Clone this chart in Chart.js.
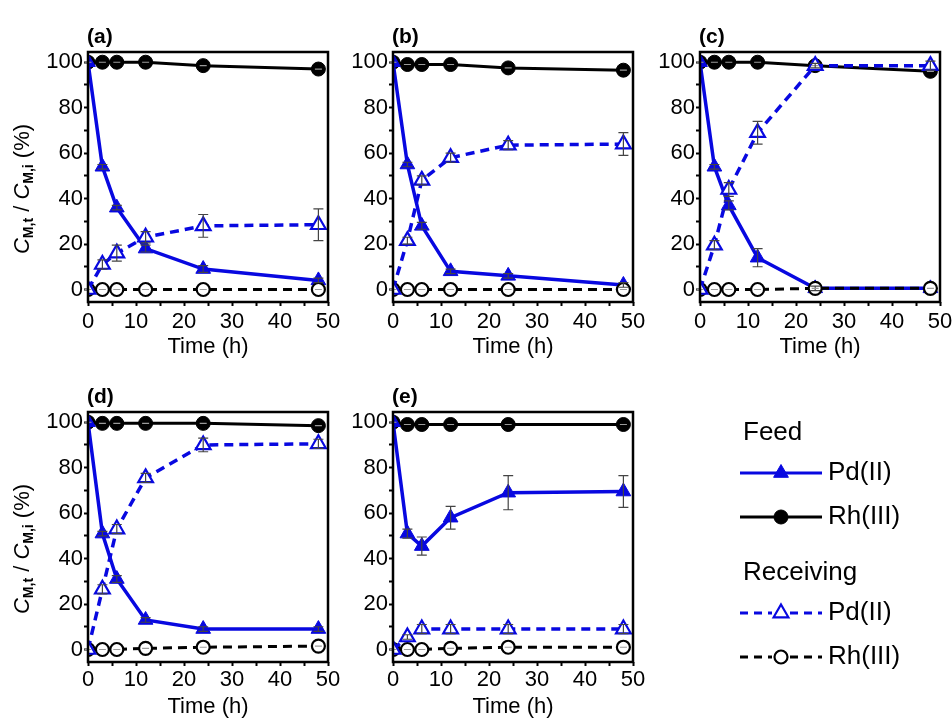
<!DOCTYPE html>
<html>
<head>
<meta charset="utf-8">
<script src="https://cdn.jsdelivr.net/npm/chart.js@4.4.1/dist/chart.umd.min.js"></script>
<style>
body { margin: 0; background: #fff; overflow: hidden; width: 952px; height: 718px; position: relative; }
canvas { position: absolute; }
</style>
</head>
<body>
<canvas id="pa" width="350" height="360" style="left:0px;top:0px"></canvas>
<canvas id="pb" width="330" height="360" style="left:330px;top:0px"></canvas>
<canvas id="pc" width="316" height="360" style="left:640px;top:0px"></canvas>
<canvas id="pd" width="350" height="358" style="left:0px;top:360px"></canvas>
<canvas id="pe" width="622" height="358" style="left:330px;top:360px"></canvas>
<script>
const times = [0, 3, 6, 12, 24, 48]
const xTickVals = [0, 5, 10, 15, 20, 25, 30, 35, 40, 45, 50]
const xLabels = [0, 10, 20, 30, 40, 50]
const yTickVals = [0, 10, 20, 30, 40, 50, 60, 70, 80, 90, 100]
const yLabels = [0, 20, 40, 60, 80, 100]
const rhErr = [0, 0, 0, 0, 0, 0]

// (a)
const feedPdA = [100, 54, 36, 18, 9, 4]
const feedPdErrA = [0, 1, 1, 1.5, 1.5, 1]
const feedRhA = [100, 100, 100, 100, 98.5, 97]
const recvPdA = [0, 11, 16, 23, 28, 28.5]
const recvPdErrA = [0, 2, 3.5, 2.5, 5, 7]
const recvRhA = [0, 0, 0, 0, 0, 0]

// (b)
const feedPdB = [100, 55, 28, 8, 6, 2]
const feedPdErrB = [0, 1, 1.5, 1, 1, 1]
const feedRhB = [100, 99, 99, 99, 97.5, 96.5]
const recvPdB = [0, 21.5, 48, 58, 63.5, 64]
const recvPdErrB = [0, 1.5, 2, 2, 2, 5]
const recvRhB = [0, 0, 0, 0, 0, 0]

// (c)
const feedPdC = [100, 54, 37, 14, 0.5, 0.5]
const feedPdErrC = [0, 1, 2, 4, 1, 0]
const feedRhC = [100, 100, 100, 100, 98.5, 96]
const recvPdC = [0, 19.5, 44, 69, 98.5, 98.5]
const recvPdErrC = [0, 2, 3, 5, 1, 2]
const recvRhC = [0, 0, 0, 0, 0.5, 0.5]

// (d)
const feedPdD = [100, 51, 31, 13, 9, 9]
const feedPdErrD = [0, 1, 1.5, 1, 1, 1]
const feedRhD = [100, 99.5, 99.5, 99.5, 99.5, 98.5]
const recvPdD = [0, 26.5, 53, 75.5, 90, 90.5]
const recvPdErrD = [0, 2, 2, 2, 3, 2]
const recvRhD = [0, 0, 0, 0.5, 1, 1.5]

// (e)
const feedPdE = [100, 51, 45.5, 58, 69, 69.5]
const feedPdErrE = [0, 2, 4, 5, 7.5, 7]
const feedRhE = [100, 99, 99, 99, 99, 99]
const recvPdE = [0, 5.5, 9, 9, 9, 9]
const recvPdErrE = [0, 1, 2, 2, 2, 2]
const recvRhE = [0, 0, 0, 0.5, 1, 1]

const BLUE = "rgb(8,8,224)"
const FONT = "'Liberation Sans', Arial, sans-serif"
Chart.defaults.font.family = FONT

const pts = (ys) => times.map((t, i) => ({ x: t, y: ys[i] }))

const makeSets = (feedPd, feedPdErr, feedRh, recvPd, recvPdErr, recvRh) => [
    {
        data: pts(feedRh), errors: rhErr, errColor: "#9a9a9a", cap: 3.5,
        borderColor: "#000", backgroundColor: "#000",
        borderWidth: 3, pointStyle: "circle", pointRadius: 7, pointBorderWidth: 1,
        order: 4
    },
    {
        data: pts(feedPd), errors: feedPdErr, errColor: "#444", cap: 5,
        borderColor: BLUE, backgroundColor: BLUE,
        borderWidth: 3.5, pointStyle: "triangle", pointRadius: 8.5, pointBorderWidth: 1,
        order: 3
    },
    {
        data: pts(recvRh), errors: rhErr, errColor: "#9a9a9a", cap: 3.5,
        borderColor: "#000", backgroundColor: "#fff",
        borderWidth: 3, borderDash: [9, 6], pointStyle: "circle", pointRadius: 6.5,
        pointBorderWidth: 2.2, order: 2
    },
    {
        data: pts(recvPd), errors: recvPdErr, errColor: "#444", cap: 5,
        borderColor: BLUE, backgroundColor: "#fff",
        borderWidth: 3.5, borderDash: [9, 6], pointStyle: "triangle", pointRadius: 8.5,
        pointBorderWidth: 2.2, order: 1
    }
]

// error bars, frame and panel label
const extras = {
    id: "extras",
    afterDatasetsDraw(chart) {
        const ctx = chart.ctx, xs = chart.scales.x, ys = chart.scales.y
        ctx.save()
        ctx.lineWidth = 1.2
        chart.data.datasets.forEach(ds => {
            if (!ds.errors) return
            ctx.strokeStyle = ds.errColor
            ds.data.forEach((p, i) => {
                const e = ds.errors[i]
                if (ds.errColor === "#444" && !e) return
                const x = xs.getPixelForValue(p.x)
                const y1 = ys.getPixelForValue(p.y + e), y2 = ys.getPixelForValue(p.y - e)
                const c = ds.cap
                ctx.beginPath()
                ctx.moveTo(x, y1); ctx.lineTo(x, y2)
                ctx.moveTo(x - c, y1); ctx.lineTo(x + c, y1)
                ctx.moveTo(x - c, y2); ctx.lineTo(x + c, y2)
                ctx.stroke()
            })
        })
        ctx.restore()
    },
    afterDraw(chart, args, opts) {
        const ctx = chart.ctx, a = chart.chartArea
        ctx.save()
        ctx.strokeStyle = "#000"
        ctx.lineWidth = 2.5
        ctx.strokeRect(a.left, a.top, a.right - a.left, a.bottom - a.top)
        ctx.fillStyle = "#000"
        ctx.font = "bold 21px " + FONT
        ctx.textBaseline = "middle"
        ctx.fillText(opts.label, a.left - 1, a.top - 15)
        if (opts.yTitle) {
            ctx.translate(23, a.top + 137)
            ctx.rotate(-Math.PI / 2)
            const segs = [
                ["italic 22px ", "C", 0], ["bold 14px ", "M,t", 6], ["22px ", " / ", 0],
                ["italic 22px ", "C", 0], ["bold 14px ", "M,i", 6], ["22px ", " (%)", 0]
            ]
            let total = 0
            segs.forEach(s => { ctx.font = s[0] + FONT; total += ctx.measureText(s[1]).width })
            let x = -total / 2
            segs.forEach(s => {
                ctx.font = s[0] + FONT
                ctx.fillText(s[1], x, s[2])
                x += ctx.measureText(s[1]).width
            })
        }
        ctx.restore()
    }
}

// legend drawn in the free space right of panel (e)
const legendBox = {
    id: "legendBox",
    afterDraw(chart) {
        const ctx = chart.ctx
        const ox = 330, oy = 360
        const rows = [
            { head: "Feed", y: 433 },
            { text: "Pd(II)", y: 473, color: BLUE, dash: [], mark: "tri", fill: BLUE },
            { text: "Rh(III)", y: 517, color: "#000", dash: [], mark: "circ", fill: "#000" },
            { head: "Receiving", y: 573 },
            { text: "Pd(II)", y: 613, color: BLUE, dash: [8, 6], mark: "tri", fill: "#fff" },
            { text: "Rh(III)", y: 657, color: "#000", dash: [8, 6], mark: "circ", fill: "#fff" }
        ]
        ctx.save()
        ctx.translate(-ox, -oy)
        ctx.textBaseline = "middle"
        ctx.font = "26px " + FONT
        rows.forEach(r => {
            ctx.fillStyle = "#000"
            if (r.head) { ctx.fillText(r.head, 743, r.y); return }
            ctx.strokeStyle = r.color
            ctx.lineWidth = 3
            ctx.setLineDash(r.dash)
            ctx.beginPath(); ctx.moveTo(740, r.y); ctx.lineTo(772, r.y); ctx.stroke()
            ctx.beginPath(); ctx.moveTo(790, r.y); ctx.lineTo(822, r.y); ctx.stroke()
            ctx.setLineDash([])
            if (r.fill !== "#fff") {
                ctx.beginPath(); ctx.moveTo(772, r.y); ctx.lineTo(790, r.y); ctx.stroke()
            }
            ctx.fillStyle = r.fill
            ctx.lineWidth = r.fill === "#fff" ? 2.2 : 1
            ctx.beginPath()
            if (r.mark === "tri") {
                ctx.moveTo(781, r.y - 8.5)
                ctx.lineTo(781 + 7.4, r.y + 4.3)
                ctx.lineTo(781 - 7.4, r.y + 4.3)
                ctx.closePath()
            } else {
                ctx.arc(781, r.y, r.fill === "#fff" ? 6.5 : 7, 0, Math.PI * 2)
            }
            ctx.fill(); ctx.stroke()
            ctx.fillStyle = "#000"
            ctx.fillText(r.text, 828, r.y)
        })
        ctx.restore()
    }
}

const makePanel = (id, label, sets, box, yTitle, plugins) => {
    new Chart(document.getElementById(id).getContext("2d"), {
        type: "line",
        data: { datasets: sets },
        plugins: [extras].concat(plugins || []),
        options: {
            responsive: false,
            animation: false,
            devicePixelRatio: 1,
            layout: { padding: { left: 0, top: box.top, right: box.right, bottom: 0 } },
            plugins: {
                legend: { display: false },
                tooltip: { enabled: false },
                extras: { label: label, yTitle: yTitle }
            },
            scales: {
                x: {
                    type: "linear", min: 0, max: 50,
                    afterBuildTicks: s => { s.ticks = xTickVals.map(v => ({ value: v })) },
                    afterFit: s => { s.height = box.xh },
                    grid: { drawOnChartArea: false, drawTicks: true, tickLength: 4, tickWidth: 2, color: "#000" },
                    border: { display: false },
                    ticks: {
                        color: "#000", padding: box.tickPad, maxRotation: 0, autoSkip: false,
                        font: { size: 22 },
                        callback: v => xLabels.includes(v) ? v : ""
                    },
                    title: {
                        display: true, text: "Time (h)", color: "#000",
                        font: { size: 22 }, padding: { top: 0, bottom: box.tpad }
                    }
                },
                y: {
                    type: "linear", min: -5.5, max: 104.5,
                    afterBuildTicks: s => { s.ticks = yTickVals.map(v => ({ value: v })) },
                    afterFit: s => { s.width = box.yw },
                    grid: { drawOnChartArea: false, drawTicks: true, tickLength: 4, tickWidth: 2, color: "#000" },
                    border: { display: false },
                    ticks: {
                        color: "#000", padding: 1, autoSkip: false,
                        font: { size: 22 },
                        callback: v => yLabels.includes(v) ? v : ""
                    }
                }
            }
        }
    })
}

makePanel("pa", "(a)", makeSets(feedPdA, feedPdErrA, feedRhA, recvPdA, recvPdErrA, recvRhA),
    { top: 52, right: 22, yw: 88, xh: 58, tpad: 0, tickPad: 3 }, true)
makePanel("pb", "(b)", makeSets(feedPdB, feedPdErrB, feedRhB, recvPdB, recvPdErrB, recvRhB),
    { top: 52, right: 27, yw: 63, xh: 58, tpad: 0, tickPad: 3 }, false)
makePanel("pc", "(c)", makeSets(feedPdC, feedPdErrC, feedRhC, recvPdC, recvPdErrC, recvRhC),
    { top: 52, right: 16, yw: 60, xh: 58, tpad: 0, tickPad: 3 }, false)
makePanel("pd", "(d)", makeSets(feedPdD, feedPdErrD, feedRhD, recvPdD, recvPdErrD, recvRhD),
    { top: 52, right: 22, yw: 88, xh: 56, tpad: -2, tickPad: 1 }, true)
makePanel("pe", "(e)", makeSets(feedPdE, feedPdErrE, feedRhE, recvPdE, recvPdErrE, recvRhE),
    { top: 52, right: 319, yw: 63, xh: 56, tpad: -2, tickPad: 1 }, false, [legendBox])
</script>
</body>
</html>
